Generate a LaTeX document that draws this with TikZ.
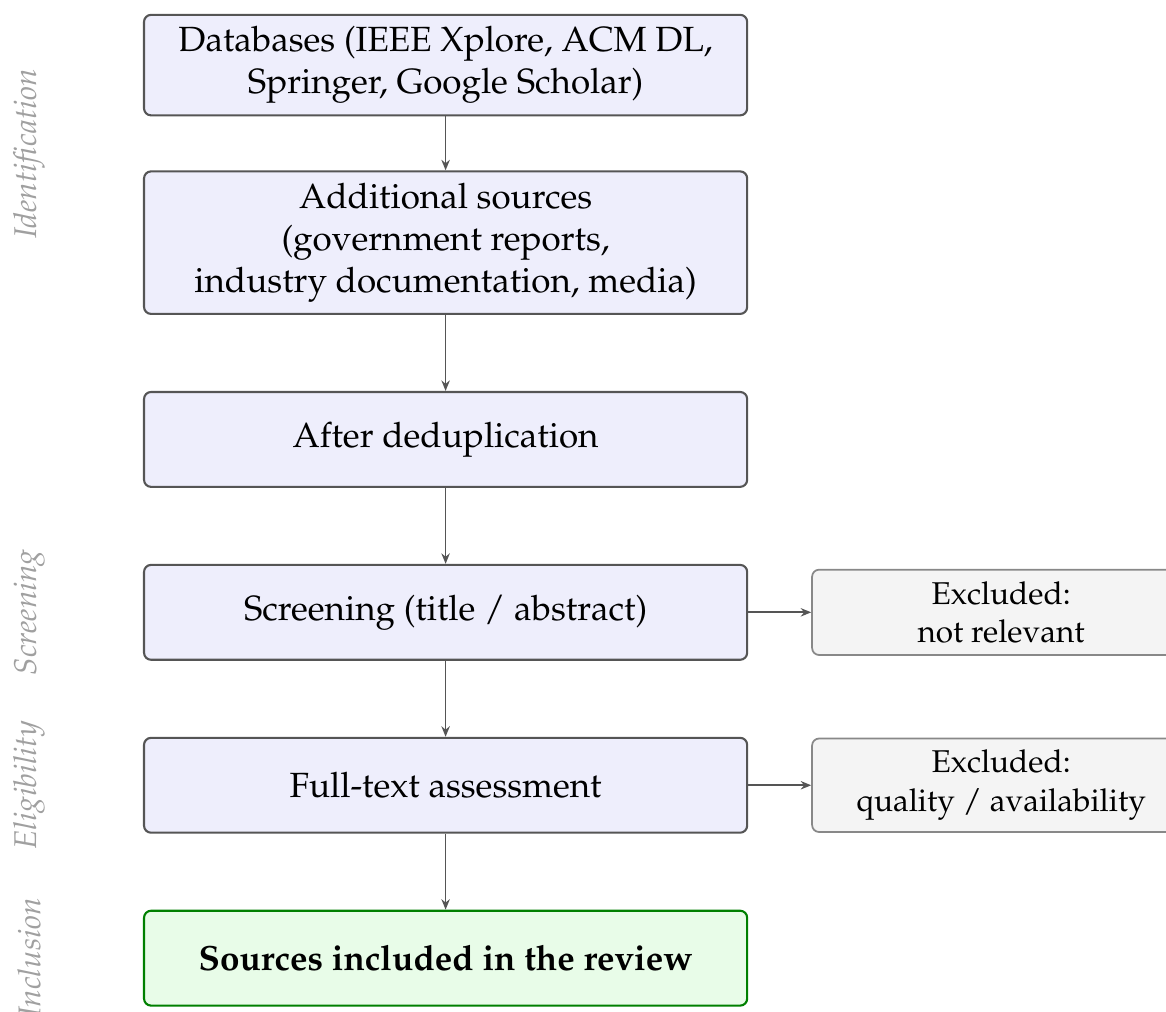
\documentclass[tikz,border=0pt]{standalone}
\usepackage[T1]{fontenc}
\usepackage{mathpazo}
\usepackage{tikz}
\usetikzlibrary{arrows.meta, positioning, calc}
\definecolor{stepfill}{RGB}{238,238,252}
\definecolor{stepdraw}{RGB}{85,85,85}
\definecolor{incfill}{RGB}{232,252,232}
\definecolor{incdraw}{RGB}{0,128,0}
\definecolor{exfill}{RGB}{244,244,244}
\definecolor{exdraw}{RGB}{136,136,136}
\definecolor{phasegray}{RGB}{160,160,160}

\begin{document}
\begin{tikzpicture}[
    node distance=21.7pt,
    stepbox/.style={rectangle, rounded corners=2pt, draw=stepdraw, line width=0.6pt,
                fill=stepfill, minimum width=172.3pt, minimum height=27.1pt, align=center},
    incbox/.style={stepbox, draw=incdraw, fill=incfill, font=\bfseries},
    exbox/.style={rectangle, rounded corners=2pt, draw=exdraw, line width=0.5pt,
                fill=exfill, minimum width=108pt, align=center, font=\small},
    phase/.style={rotate=90, font=\small\itshape, text=phasegray},
    arrow/.style={-{Stealth[length=3pt, width=2.4pt]}, line width=0.5pt, stepdraw}
]
    \useasboundingbox (0,0) rectangle (333.1pt,-289.1pt);
    % Nodes
    \node[stepbox] (db) at (127.3pt,-18.6pt) {Databases (IEEE Xplore, ACM DL,\\Springer, Google Scholar)};
    \node[stepbox, below=15.4pt of db] (add) {Additional sources\\(government reports,\\industry documentation, media)};
    \node[stepbox, below=of add] (dedup) {After deduplication};
    \node[stepbox, below=of dedup] (screen) {Screening (title / abstract)};
    \node[stepbox, below=of screen] (full) {Full-text assessment};
    \node[incbox, below=of full] (incl) {Sources included in the review};
    \node[exbox, right=18pt of screen] (exscreen) {Excluded:\\not relevant};
    \node[exbox, right=18pt of full] (exfull) {Excluded:\\quality / availability};

    % Phase labels
    \coordinate (lab) at (8.3pt,0);
    \coordinate (idmid) at ($(db)!0.5!(add)$);
    \node[phase] (lid) at (lab |- idmid) {Identification};
    \node[phase] (lscr) at (lab |- screen) {Screening};
    \node[phase] (lelig) at (lab |- full) {Eligibility};
    \node[phase] (lincl) at (lab |- incl) {Inclusion};

    % Arrows
    \draw[arrow] (db) -- (add);
    \draw[arrow] (add) -- (dedup);
    \draw[arrow] (dedup) -- (screen);
    \draw[arrow] (screen) -- (full);
    \draw[arrow] (full) -- (incl);
    \draw[arrow] (screen) -- (exscreen);
    \draw[arrow] (full) -- (exfull);
\end{tikzpicture}
\end{document}
